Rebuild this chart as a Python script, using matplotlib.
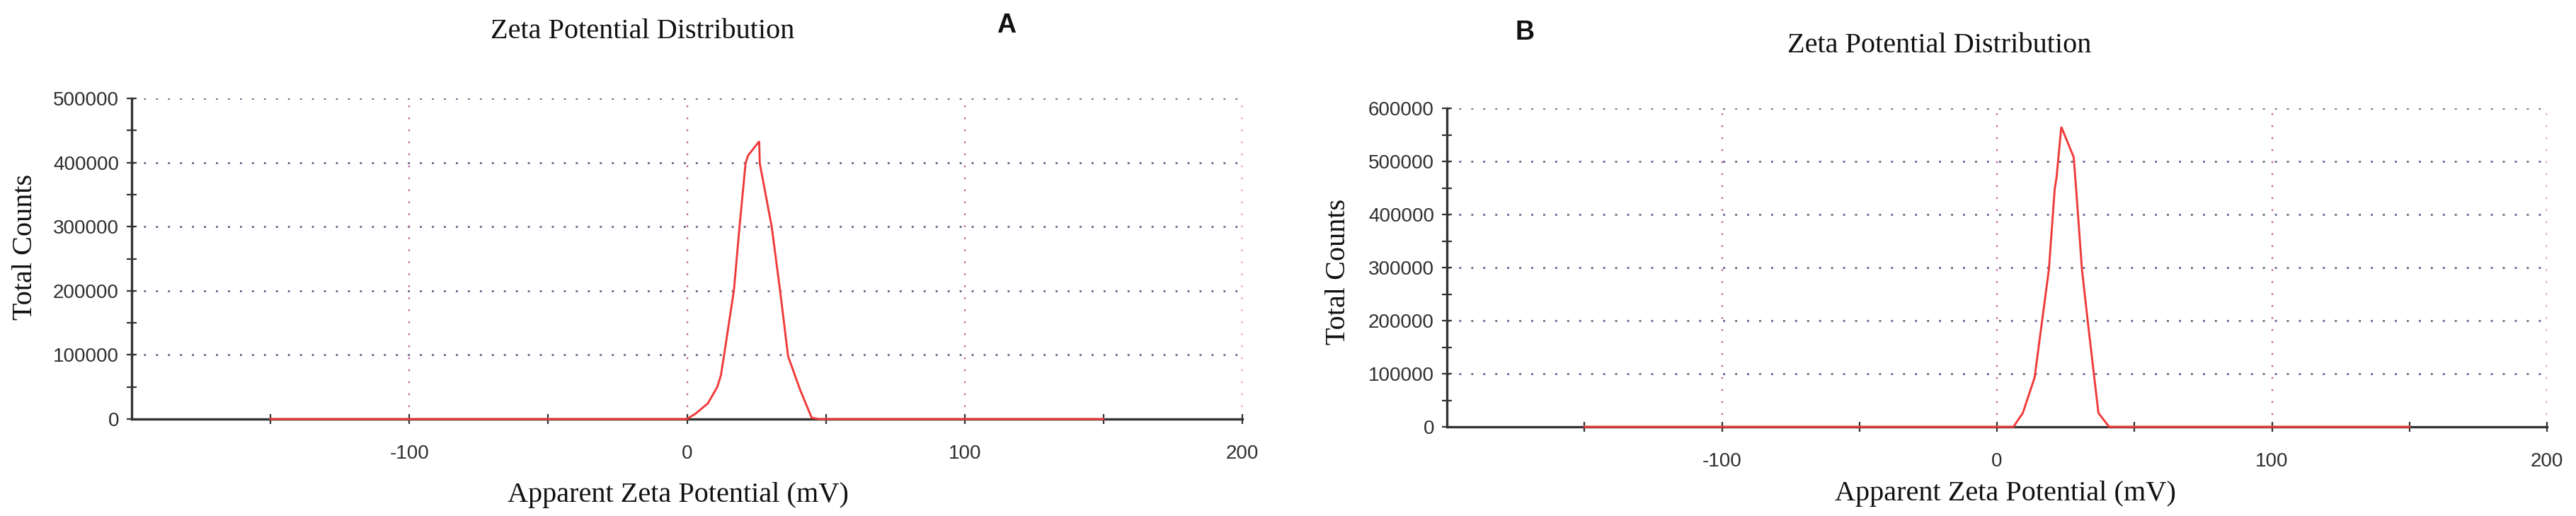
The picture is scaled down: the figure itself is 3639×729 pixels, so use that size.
import matplotlib
matplotlib.use("Agg")
import matplotlib.pyplot as plt
from matplotlib.ticker import FixedLocator, NullFormatter

plt.rcParams['axes.unicode_minus'] = False
plt.rcParams['lines.scale_dashes'] = False

# ---------------- data ----------------
# Panel A: zeta potential distribution
a_mv = [-150, 0, 3.2, 7.5, 10.9, 12.2, 13.4, 16.9, 19.0, 21.1, 22.0, 26.0, 26.2,
        30.5, 33.5, 36.4, 40.7, 44.9, 47.5, 150]
a_counts = [0, 0, 8800, 24300, 50000, 68000, 101000, 201000, 304000, 399000, 411000,
            433000, 399000, 300000, 201000, 98000, 46000, 2000, 0, 0]

# Panel B: zeta potential distribution
b_mv = [-150, 6.0, 9.4, 13.7, 16.3, 18.9, 21.0, 21.7, 23.4, 27.9, 28.8, 30.9,
        33.1, 36.9, 40.8, 150]
b_counts = [0, 0, 26000, 93000, 195000, 297000, 448000, 471000, 565000, 508000,
            448000, 297000, 195000, 26000, 0, 0]

x_major = [-100, 0, 100, 200]
x_minor = [-150, -50, 50, 150]
x_labels = ["-100", "0", "100", "200"]
a_yticks = [0, 100000, 200000, 300000, 400000, 500000]
b_yticks = [0, 100000, 200000, 300000, 400000, 500000, 600000]
a_yminor = [50000, 150000, 250000, 350000, 450000]
b_yminor = [50000, 150000, 250000, 350000, 450000, 550000]

title_text = "Zeta Potential Distribution"
xlabel_text = "Apparent Zeta Potential (mV)"
ylabel_text = "Total Counts"

# ---------------- figure ----------------
W, H = 3639, 729
fig = plt.figure(figsize=(W / 100, H / 100), dpi=100)

def px_axes(left, right, top, bottom):
    return fig.add_axes([left / W, 1 - bottom / H, (right - left) / W, (bottom - top) / H])

SERIF = "Liberation Serif"
SANS = "Liberation Sans"
AXC = "#333333"
RED = "#f03a3a"
HGRID = "#5f6388"
VGRID = "#cc5a92"

def style(ax, x, y, yticks, yminor, ymax):
    ax.set_xlim(-200, 200)
    ax.set_ylim(0, ymax)
    for s in ("top", "right"):
        ax.spines[s].set_visible(False)
    for s in ("left", "bottom"):
        ax.spines[s].set_color(AXC)
        ax.spines[s].set_linewidth(2.4)
    # grids
    for yv in yticks[1:]:
        ax.axhline(yv, color=HGRID, lw=2.0, linestyle=(0, (2.0, 10.2)), zorder=1)
    for xv in x_major:
        ax.axvline(xv, color=VGRID, lw=1.7, linestyle=(0, (1.7, 10.5)), zorder=1)
    ax.xaxis.set_major_locator(FixedLocator(x_major))
    ax.xaxis.set_minor_locator(FixedLocator(x_minor))
    ax.set_xticklabels(x_labels)
    ax.xaxis.set_minor_formatter(NullFormatter())
    ax.yaxis.set_major_locator(FixedLocator(yticks))
    ax.yaxis.set_minor_locator(FixedLocator(yminor))
    ax.set_yticklabels([str(v) for v in yticks])
    ax.tick_params(axis="both", which="both", direction="inout", length=10,
                   width=1.6, color=AXC, labelcolor="#2e2e2e", labelsize=20)
    ax.tick_params(axis="x", which="both", pad=21)
    ax.tick_params(axis="y", which="both", pad=8)
    for lab in ax.get_xticklabels() + ax.get_yticklabels():
        lab.set_fontfamily(SANS)
    ax.plot(x, y, color=RED, lw=2.1, zorder=5, clip_on=False, solid_joinstyle="miter")

# Panel A
axA = px_axes(186, 1755, 139, 592)
style(axA, a_mv, a_counts, a_yticks, a_yminor, 500000)
# Panel B
axB = px_axes(2044, 3598, 153, 603)
style(axB, b_mv, b_counts, b_yticks, b_yminor, 600000)

def ftext(x, y, s, **kw):
    fig.text(x / W, 1 - y / H, s, ha="center", va="center", **kw)

ftext(908, 45, title_text, family=SERIF, fontsize=29, color="#111111")
ftext(958, 700, xlabel_text, family=SERIF, fontsize=29, color="#111111")
ftext(36, 349, ylabel_text, family=SERIF, fontsize=29, rotation=90, color="#111111")
ftext(1422, 36, "A", family=SANS, fontsize=27, fontweight="bold", color="#111111")

ftext(2740, 65, title_text, family=SERIF, fontsize=29, color="#111111")
ftext(2833, 697, xlabel_text, family=SERIF, fontsize=29, color="#111111")
ftext(1890, 384, ylabel_text, family=SERIF, fontsize=29, rotation=90, color="#111111")
ftext(2154, 46, "B", family=SANS, fontsize=27, fontweight="bold", color="#111111")

fig.savefig("out.png", dpi=100, facecolor="white")
